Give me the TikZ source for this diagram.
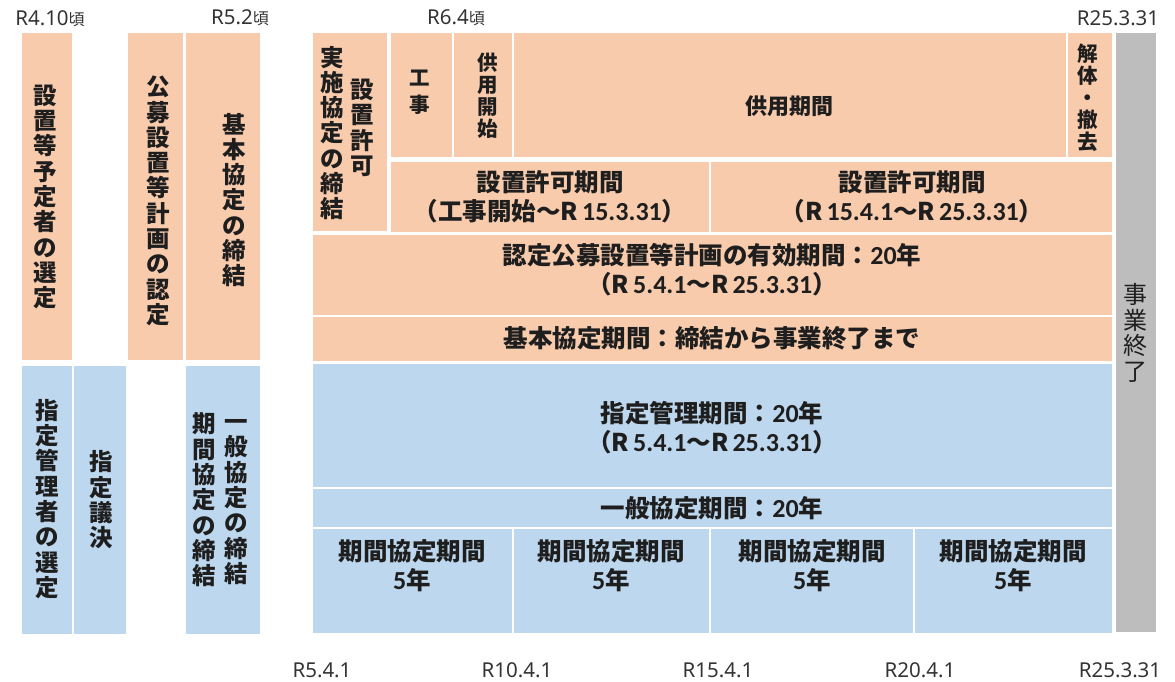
\documentclass[tikz,border=0pt]{standalone}
\usepackage{fontspec}
\setmainfont{Noto Sans CJK JP}
\newfontfamily\numf{Carlito}
\newfontfamily\datef{Noto Sans}
\definecolor{orng}{HTML}{F8CBAD}
\definecolor{blu}{HTML}{BDD7EE}
\definecolor{gry}{HTML}{BDBDBD}
\definecolor{txt}{HTML}{1E1E1E}
\definecolor{lbl}{HTML}{333333}
\newcommand\nm[1]{{\numf\bfseries\fontsize{26}{30}\selectfont #1}}
\begin{document}
\begin{tikzpicture}[x=1pt,y=-1pt,
  ob/.style={fill=orng,draw=none},
  bb/.style={fill=blu,draw=none},
  gb/.style={fill=gry,draw=none},
  vt/.style={align=center,inner sep=0pt,text=txt,font=\bfseries\fontsize{23.5}{25.3}\selectfont},
  vts/.style={align=center,inner sep=0pt,text=txt,font=\bfseries\fontsize{20.5}{22}\selectfont},
  ht/.style={align=center,inner sep=0pt,text=txt,font=\bfseries\fontsize{24.5}{29}\selectfont},
  dl/.style={inner sep=0pt,text=lbl,font=\datef\fontsize{20.5}{24}\selectfont}]
\useasboundingbox (0,0) rectangle (1175,681);
% left columns
\path[ob] (22,33) rectangle (72,360);
\path[ob] (128,33) rectangle (183,360);
\path[ob] (186,33) rectangle (260,360);
\path[bb] (22,366) rectangle (72,634);
\path[bb] (74,366) rectangle (126,634);
\path[bb] (186,366) rectangle (260,634);
% main orange area
\path[ob] (313,33) rectangle (387,231);
\path[ob] (391,33) rectangle (452,157);
\path[ob] (454,33) rectangle (512,157);
\path[ob] (514,33) rectangle (1066,157);
\path[ob] (1068,33) rectangle (1112,157);
\path[ob] (391,162) rectangle (709,232);
\path[ob] (711,162) rectangle (1112,232);
\path[ob] (313,235) rectangle (1112,315);
\path[ob] (313,317) rectangle (1112,361);
% main blue area
\path[bb] (313,364) rectangle (1112,487);
\path[bb] (313,489) rectangle (1112,527);
\path[bb] (313,529) rectangle (512,633);
\path[bb] (514,529) rectangle (709,633);
\path[bb] (711,529) rectangle (913,633);
\path[bb] (915,529) rectangle (1112,633);
% gray
\path[gb] (1116,33) rectangle (1156,632);

% vertical texts
\node[vt] (n1) at (45,197) {設\\置\\等\\予\\定\\者\\の\\選\\定};
\node[vt] (n2) at (158,201) {公\\募\\設\\置\\等\\計\\画\\の\\認\\定};
\node[vt] (n3) at (234,200) {基\\本\\協\\定\\の\\締\\結};
\node[vt] (n4) at (47,499) {指\\定\\管\\理\\者\\の\\選\\定};
\node[vt] (n5) at (101,500) {指\\定\\議\\決};
\node[vt] (n6) at (236,502) {一\\般\\協\\定\\の\\締\\結};
\node[vt] (n7) at (204,500) {期\\間\\協\\定\\の\\締\\結};
\node[vt] (n8) at (332,133) {実\\施\\協\\定\\の\\締\\結};
\node[vt] (n9) at (362,128) {設\\置\\許\\可};
\node[vts,font=\bfseries\fontsize{20.5}{27}\selectfont] (n10) at (420,92) {工\\事};
\node[vts] (n11) at (488,96) {供\\用\\開\\始};
\node[vts] (n12) at (1088,98) {解\\体\\・\\撤\\去};
\node[align=center,inner sep=0pt,text=txt,font=\fontsize{24}{25.5}\selectfont] (n13) at (1135,333) {事\\業\\終\\了};

% horizontal texts
\node[ht,font=\bfseries\fontsize{22}{25}\selectfont] (h1) at (789,106) {供用期間};
\node[ht] (h2) at (550,197) {設置許可期間\\（工事開始～R\,\nm{15.3.31}）};
\node[ht] (h3) at (912,197) {設置許可期間\\（R\,\nm{15.4.1}～R\,\nm{25.3.31}）};
\node[ht] (h4) at (712,270) {認定公募設置等計画の有効期間：\nm{20}年\\（R\,\nm{5.4.1}～R\,\nm{25.3.31}）};
\node[ht] (h5) at (712,338) {基本協定期間：締結から事業終了まで};
\node[ht] (h6) at (712,428) {指定管理期間：\nm{20}年\\（R\,\nm{5.4.1}～R\,\nm{25.3.31}）};
\node[ht] (h7) at (712,508) {一般協定期間：\nm{20}年};
\node[ht] (k1) at (412,566) {期間協定期間\\\nm{5}年};
\node[ht] (k2) at (611,566) {期間協定期間\\\nm{5}年};
\node[ht] (k3) at (812,566) {期間協定期間\\\nm{5}年};
\node[ht] (k4) at (1013,566) {期間協定期間\\\nm{5}年};

% date labels
\node[dl] (t1) at (50,19) {R4.10{\rmfamily\fontsize{16}{18}\selectfont 頃}};
\node[dl] (t2) at (240,18) {R5.2{\rmfamily\fontsize{16}{18}\selectfont 頃}};
\node[dl] (t3) at (456,18) {R6.4{\rmfamily\fontsize{16}{18}\selectfont 頃}};
\node[dl] (t4) at (1118,18) {R25.3.31};
\node[dl] (b1) at (322,670) {R5.4.1};
\node[dl] (b2) at (517,670) {R10.4.1};
\node[dl] (b3) at (718,670) {R15.4.1};
\node[dl] (b4) at (920,670) {R20.4.1};
\node[dl] (b5) at (1120,670) {R25.3.31};
\end{tikzpicture}
\end{document}
